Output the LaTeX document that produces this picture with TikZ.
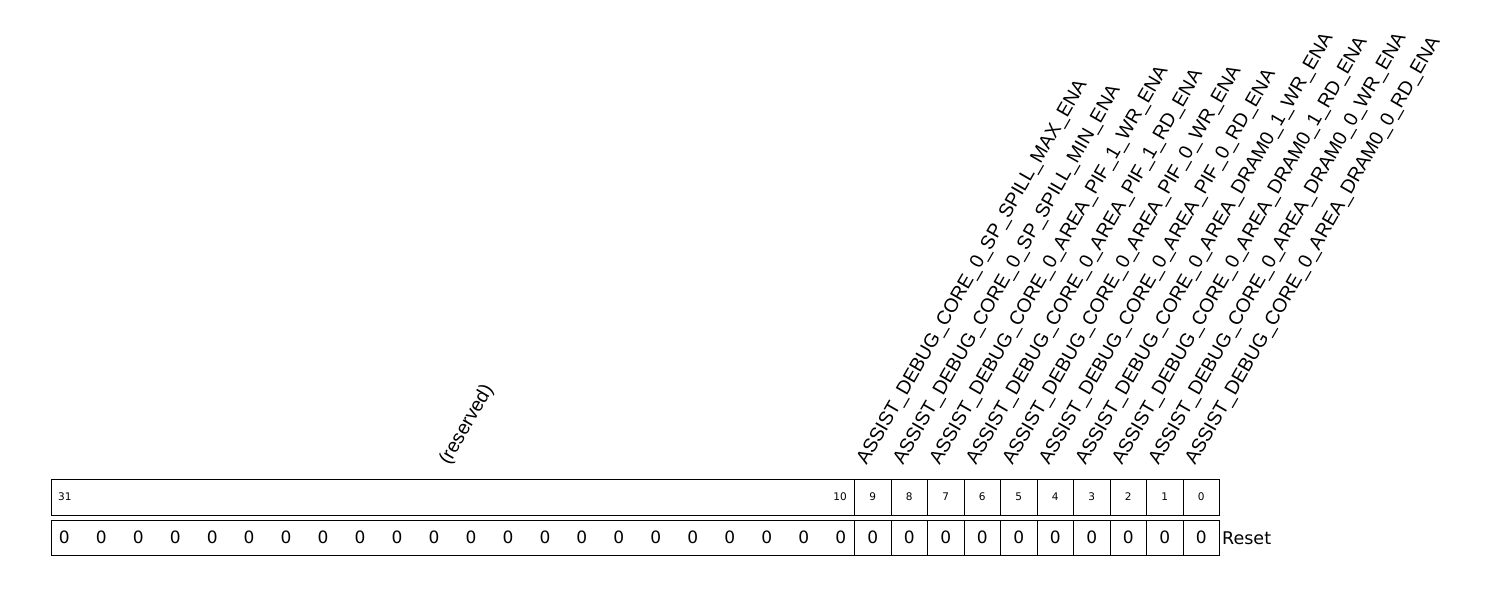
\documentclass[tikz,border=0pt]{standalone}
\usepackage{fontspec}
\setmainfont{DejaVu Sans}
\newfontfamily\lblfont{Liberation Sans}
\begin{document}
\begin{tikzpicture}[x=1pt,y=-1pt,
  regcell/.style={draw=black, line width=1pt, inner sep=0pt, minimum height=36pt, minimum width=36.5pt},
  valcell/.style={draw=black, line width=1pt, inner sep=0pt, minimum height=35.5pt, minimum width=36.5pt, font=\fontsize{17}{19}\selectfont},
  bitnum/.style={inner sep=0pt, font=\fontsize{10.5}{12}\selectfont},
  zeroval/.style={inner sep=0pt, font=\fontsize{17}{19}\selectfont},
  lbl/.style={rotate=60, anchor=base west, inner sep=0pt, font=\lblfont\fontsize{19.4}{21}\selectfont}]
\useasboundingbox (0,0) rectangle (1488,590);
% header row: reserved field
\node[regcell, minimum width=803pt] (hres) at (453,497) {};
\node[bitnum, anchor=west] (h31) at (58,497) {31};
\node[bitnum, anchor=east] (h10) at (847,497) {10};
% reset row: reserved field
\node[valcell, minimum width=803pt] (vres) at (453,537.75) {};
\foreach \i in {0,...,21} {
  \node[zeroval] (z\i) at ({64.3+\i*36.97},537.75) {0};
}
% single bits
\foreach \b in {9,...,0} {
  \node[regcell, bitnum, draw=black, line width=1pt, minimum height=36pt, minimum width=36.5pt] (h\b) at ({69.75+(31-\b)*36.5},497) {\b};
  \node[valcell] (v\b) at ({69.75+(31-\b)*36.5},537.75) {0};
}
\node[anchor=west, inner sep=0pt, font=\fontsize{17.5}{19}\selectfont] (reset) at (1222,538) {Reset};
% labels
\node[lbl] (lres) at (449,466) {(reserved)};
\node[lbl] (l9) at (866.5,466) {ASSIST\_DEBUG\_CORE\_0\_SP\_SPILL\_MAX\_ENA};
\node[lbl] (l8) at (903,466) {ASSIST\_DEBUG\_CORE\_0\_SP\_SPILL\_MIN\_ENA};
\node[lbl] (l7) at (939.5,466) {ASSIST\_DEBUG\_CORE\_0\_AREA\_PIF\_1\_WR\_ENA};
\node[lbl] (l6) at (976,466) {ASSIST\_DEBUG\_CORE\_0\_AREA\_PIF\_1\_RD\_ENA};
\node[lbl] (l5) at (1012.5,466) {ASSIST\_DEBUG\_CORE\_0\_AREA\_PIF\_0\_WR\_ENA};
\node[lbl] (l4) at (1049,466) {ASSIST\_DEBUG\_CORE\_0\_AREA\_PIF\_0\_RD\_ENA};
\node[lbl] (l3) at (1085.5,466) {ASSIST\_DEBUG\_CORE\_0\_AREA\_DRAM0\_1\_WR\_ENA};
\node[lbl] (l2) at (1122,466) {ASSIST\_DEBUG\_CORE\_0\_AREA\_DRAM0\_1\_RD\_ENA};
\node[lbl] (l1) at (1158.5,466) {ASSIST\_DEBUG\_CORE\_0\_AREA\_DRAM0\_0\_WR\_ENA};
\node[lbl] (l0) at (1195,466) {ASSIST\_DEBUG\_CORE\_0\_AREA\_DRAM0\_0\_RD\_ENA};
\end{tikzpicture}
\end{document}
